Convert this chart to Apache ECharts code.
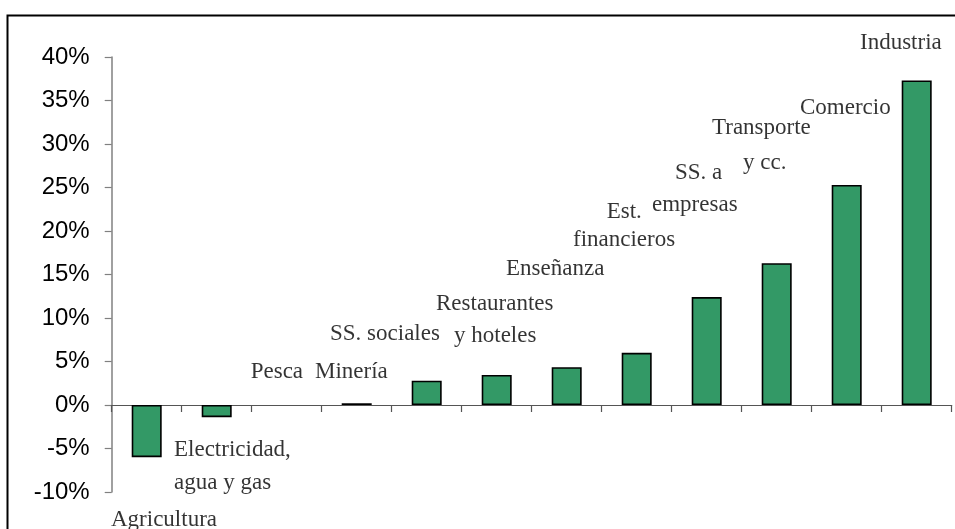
<!DOCTYPE html>
<html>
<head>
<meta charset="utf-8">
<script src="https://cdn.jsdelivr.net/npm/echarts@6/dist/echarts.min.js"></script>
<style>
html,body{margin:0;padding:0;background:#fff;}
#chart{width:955px;height:529px;}
</style>
</head>
<body>
<div id="chart"></div>
<script>
// ---- data ----
const categories = ["Agricultura", "Electricidad, agua y gas", "Pesca", "Minería", "SS. sociales",
  "Restaurantes y hoteles", "Enseñanza", "Est. financieros", "SS. a empresas", "Transporte y cc.",
  "Comercio", "Industria"];
const values = [-6.0, -1.4, 0, 0.2, 2.8, 3.45, 4.35, 6.0, 12.4, 16.3, 25.3, 37.3];
const labelLines = [["Agricultura"], ["Electricidad,", "agua y gas"], ["Pesca"], ["Minería"], ["SS. sociales"],
  ["Restaurantes", "y hoteles"], ["Enseñanza"], ["Est.", "financieros"], ["SS. a", "empresas"],
  ["Transporte", "y cc."], ["Comercio"], ["Industria"]];
const yMin = -10, yMax = 40, yStep = 5;

// ---- label layout (pixel offsets of each line's left/middle from its bar end) ----
const labelLayout = [
  [[-35.7, 63]],
  [[-42.7, 33], [-42.7, 66]],
  [[-36, -33]],
  [[-41.7, -31]],
  [[-96.7, -46.6]],
  [[-60.7, -71], [-42.7, -39]],
  [[-60.7, -98.2]],
  [[-30, -141], [-63.7, -112.8]],
  [[-31.7, -124.1], [-54.7, -92.1]],
  [[-64.7, -135.2], [-33.7, -100.2]],
  [[-46.7, -76.9]],
  [[-56.7, -37.5]]
];

const labelData = [];
categories.forEach((c, i) => {
  labelLines[i].forEach((line, j) => {
    labelData.push({
      value: [i, values[i]],
      label: { formatter: line, offset: labelLayout[i][j] }
    });
  });
});

const barData = values.map(v => v === 0
  ? { value: v, itemStyle: { borderColor: 'rgba(0,0,0,0)', borderWidth: 0 } }
  : v);

const chart = echarts.init(document.getElementById('chart'), null, {renderer: 'canvas'});
chart.setOption({
  animation: false,
  grid: { left: 111.7, right: 3.3, top: 57, bottom: 37, containLabel: false },
  xAxis: {
    type: 'category',
    data: categories,
    axisLine: { onZero: true, lineStyle: { color: '#555', width: 1.2 } },
    axisTick: { show: true, interval: 0, length: 7, inside: false, lineStyle: { color: '#555', width: 1.2 } },
    axisLabel: { show: false, interval: 0 },
    splitLine: { show: false }
  },
  yAxis: {
    type: 'value',
    min: yMin, max: yMax, interval: yStep,
    axisLine: { show: true, lineStyle: { color: '#808080', width: 1.5 } },
    axisTick: { show: true, length: 7, lineStyle: { color: '#808080', width: 1.2 } },
    splitLine: { show: false },
    axisLabel: {
      formatter: v => v + '%',
      color: '#000',
      fontFamily: 'Liberation Sans, Arial, sans-serif',
      fontSize: 24,
      margin: 22
    }
  },
  series: [
    {
      type: 'bar',
      data: barData,
      barWidth: 30,
      itemStyle: { color: '#339966', borderColor: '#000', borderWidth: 1.6 },
      silent: true
    },
    {
      type: 'scatter',
      data: labelData,
      symbolSize: 1,
      itemStyle: { color: 'rgba(0,0,0,0)' },
      silent: true,
      z: 10,
      label: {
        show: true,
        position: 'inside',
        align: 'left',
        verticalAlign: 'middle',
        color: '#000',
        fontFamily: 'Liberation Serif, Times New Roman, serif',
        fontSize: 23
      }
    }
  ],
  graphic: [{
    type: 'polyline',
    shape: { points: [[7.5, 529], [7.5, 15.5], [955, 15.5]] },
    style: { stroke: '#000', lineWidth: 2, fill: null },
    silent: true
  }]
});
</script>
</body>
</html>
